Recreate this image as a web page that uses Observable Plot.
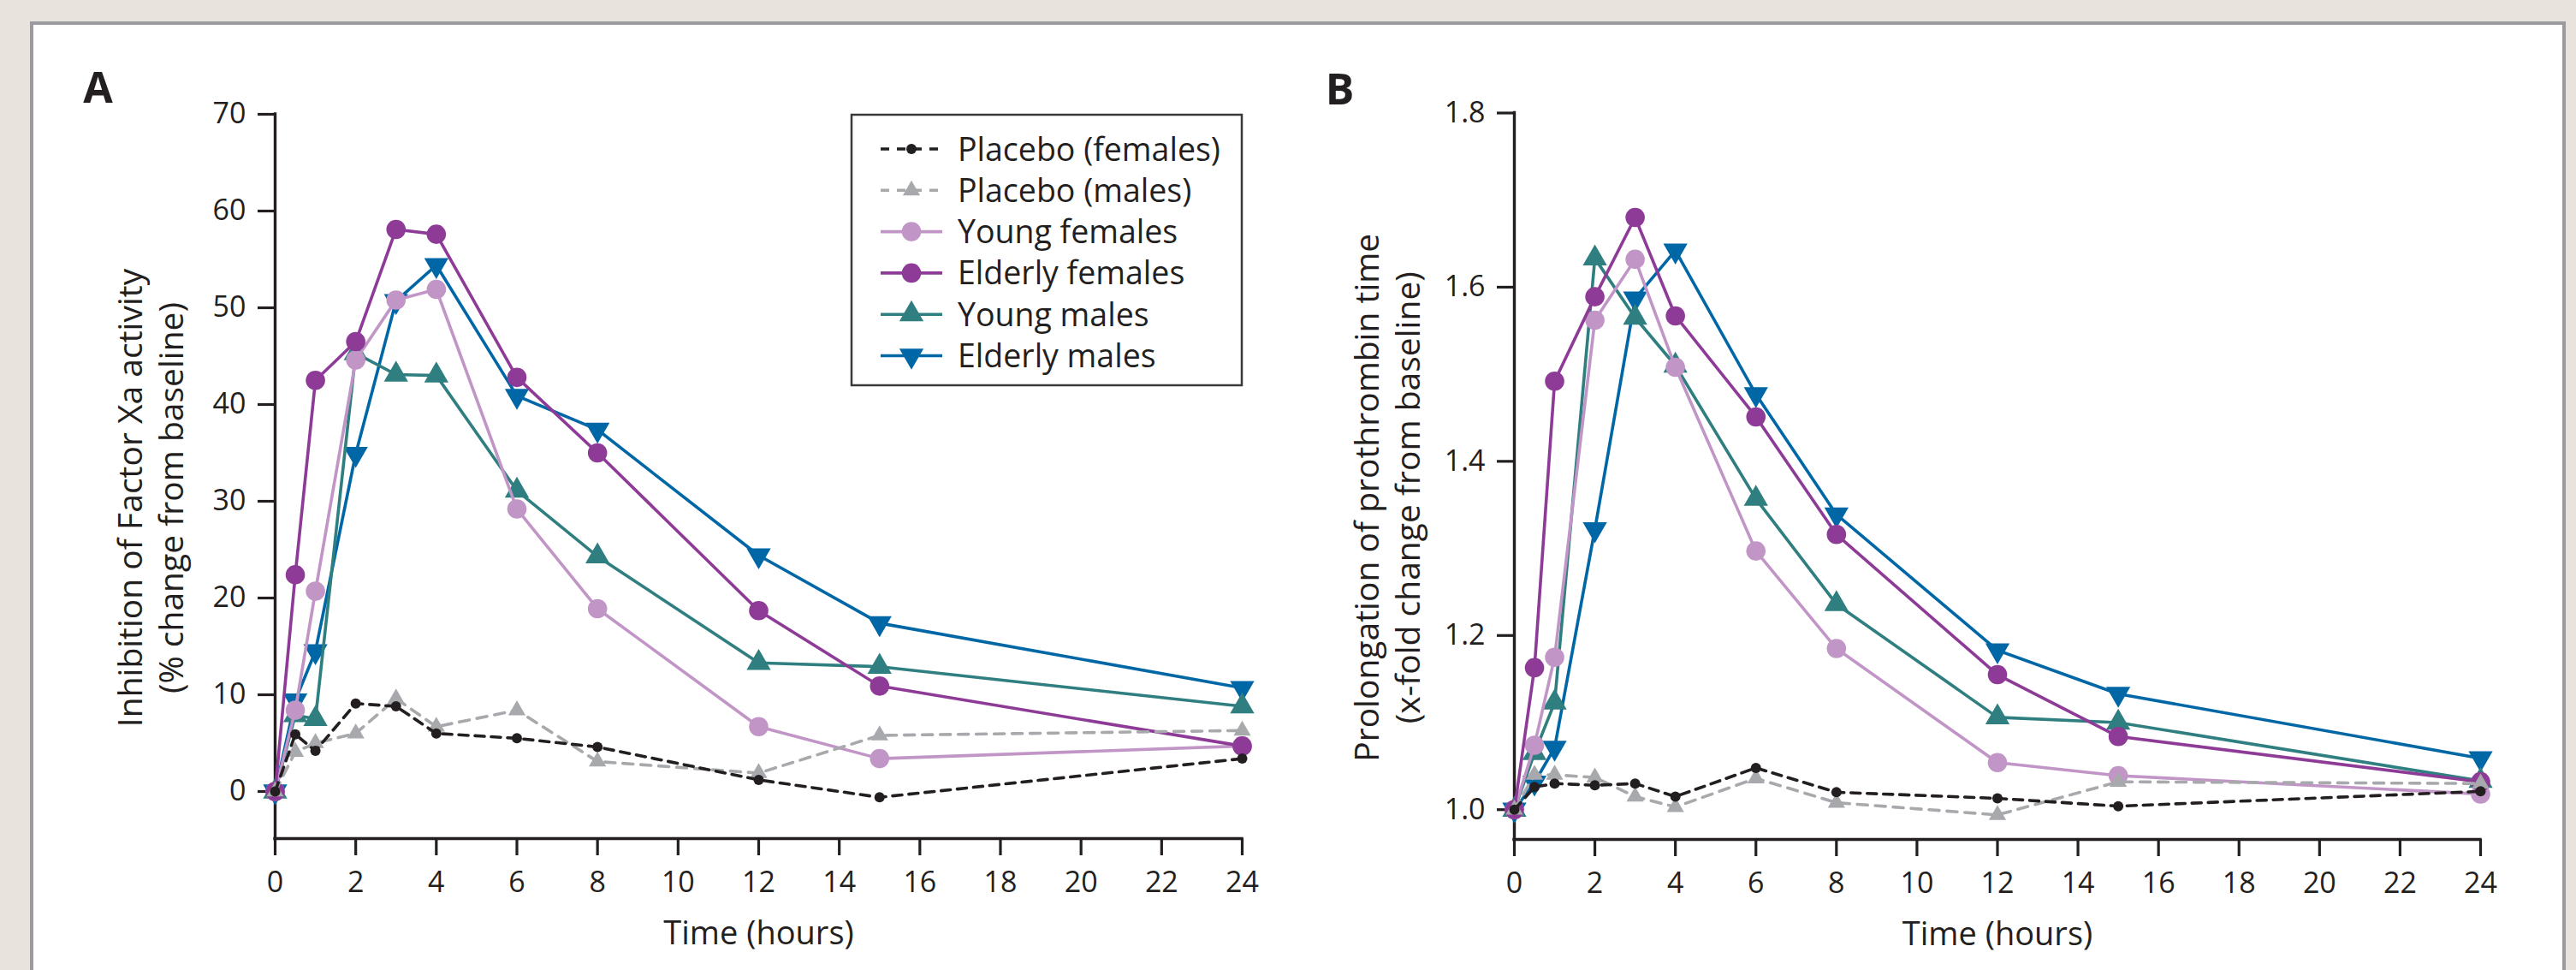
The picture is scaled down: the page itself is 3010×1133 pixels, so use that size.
<!DOCTYPE html>
<html>
<head>
<meta charset="utf-8">
<script src="https://cdn.jsdelivr.net/npm/d3@7"></script>
<script src="https://cdn.jsdelivr.net/npm/@observablehq/plot@0.6"></script>
<style>
html, body { margin: 0; padding: 0; }
body { width: 3010px; height: 1133px; background: #e8e3dd; position: relative; overflow: hidden; font-family: "Open Sans", sans-serif; }
#panel { position: absolute; left: 35px; top: 25px; width: 2955px; height: 1200px; background: #fff; border: 4px solid #9b9b9f; }
.chart { position: absolute; top: 0; }
#legend { position: absolute; left: 0; top: 0; }
</style>
</head>
<body>
<div id="panel"></div>
<div id="chartA" class="chart" style="left:0px"></div>
<div id="chartB" class="chart" style="left:1450px"></div>
<svg id="legend" width="1500" height="500"></svg>
<script>
// ---------- data ----------
const times = [0, 0.5, 1, 2, 3, 4, 6, 8, 12, 15, 24];
const groups = ["Placebo (females)", "Placebo (males)", "Young females", "Elderly females", "Young males", "Elderly males"];
const xTicks = [0, 2, 4, 6, 8, 10, 12, 14, 16, 18, 20, 22, 24];
const yTicksA = [0, 10, 20, 30, 40, 50, 60, 70];
const yTicksB = [1.0, 1.2, 1.4, 1.6, 1.8];
const labelA = "Inhibition of Factor Xa activity\n(% change from baseline)";
const labelB = "Prolongation of prothrombin time\n(x-fold change from baseline)";
const xLabel = "Time (hours)";

// Panel A: inhibition of factor Xa activity (% change from baseline)
const aPlaceboFemales = [0, 5.9, 4.2, 9.1, 8.8, 6.0, 5.5, 4.6, 1.2, -0.6, 3.4];
const aPlaceboMales   = [0, 4.1, 5.0, 6.0, 9.6, 6.7, 8.4, 3.1, 1.9, 5.8, 6.3];
const aYoungFemales   = [0, 8.4, 20.7, 44.6, 50.8, 51.9, 29.2, 18.9, 6.7, 3.4, 4.7];
const aElderlyFemales = [0, 22.4, 42.5, 46.5, 58.1, 57.6, 42.8, 35.0, 18.7, 10.9, 4.7];
const aYoungMales     = [0, 7.9, 7.5, 45.3, 43.1, 43.0, 31.1, 24.3, 13.3, 12.9, 8.8];
const aElderlyMales   = [0, 9.4, 14.5, 34.9, 50.7, 54.4, 40.9, 37.4, 24.4, 17.4, 10.7];

// Panel B: prolongation of prothrombin time (x-fold change from baseline)
const bPlaceboFemales = [1.0, 1.026, 1.030, 1.028, 1.030, 1.015, 1.048, 1.020, 1.013, 1.004, 1.021];
const bPlaceboMales   = [1.0, 1.040, 1.040, 1.037, 1.015, 1.003, 1.036, 1.008, 0.994, 1.032, 1.030];
const bYoungFemales   = [1.0, 1.074, 1.175, 1.562, 1.632, 1.508, 1.297, 1.185, 1.054, 1.039, 1.018];
const bElderlyFemales = [1.0, 1.163, 1.492, 1.589, 1.680, 1.567, 1.451, 1.316, 1.155, 1.084, 1.032];
const bYoungMales     = [1.0, 1.065, 1.123, 1.633, 1.565, 1.510, 1.357, 1.236, 1.106, 1.100, 1.033];
const bElderlyMales   = [1.0, 1.031, 1.071, 1.322, 1.587, 1.642, 1.477, 1.339, 1.183, 1.133, 1.059];

// ---------- styles ----------
const triangleDown = {
  draw(ctx, size) {
    const y = -Math.sqrt(size / (Math.sqrt(3) * 3));
    ctx.moveTo(0, -y * 2);
    ctx.lineTo(-Math.sqrt(3) * y, y);
    ctx.lineTo(Math.sqrt(3) * y, y);
    ctx.closePath();
  }
};
const styles = {
  "Placebo (females)": {color: "#231f20", width: 3.6, dash: "11,8", symbol: "circle", r: 6},
  "Placebo (males)":   {color: "#a7a9ac", width: 3.6, dash: "12,9", symbol: "triangle", r: 7.5},
  "Young females":     {color: "#c196c7", width: 3.6, dash: null, symbol: "circle", r: 11.3},
  "Elderly females":   {color: "#8e3b97", width: 3.6, dash: null, symbol: "circle", r: 11.3},
  "Young males":       {color: "#2f7e80", width: 3.6, dash: null, symbol: "triangle", r: 10.5},
  "Elderly males":     {color: "#0067a7", width: 3.6, dash: null, symbol: triangleDown, r: 10.5}
};
const drawOrder = ["Elderly males", "Young males", "Young females", "Elderly females", "Placebo (males)", "Placebo (females)"];
const ink = "#231f20";
const tickFont = "'Open Sans', sans-serif";
const labelFont = "'Open Sans', sans-serif";

function toRows(seriesByGroup) {
  const rows = [];
  for (const g of groups) seriesByGroup[g].forEach((v, i) => rows.push({group: g, t: times[i], v}));
  return rows;
}

function makePanel(rows, cfg) {
  const marks = [
    Plot.axisX({ticks: xTicks, tickSize: 20, tickPadding: 18, strokeWidth: 3.2, stroke: ink, fill: ink, fontSize: 34, label: null}),
    Plot.axisY({ticks: cfg.yTicks, tickFormat: cfg.yFormat, tickSize: 20, tickPadding: 14, strokeWidth: 3.2, stroke: ink, fill: ink, fontSize: 34, label: null}),
    Plot.ruleX([0], {stroke: ink, strokeWidth: 3.4, strokeLinecap: "square"}),
    Plot.ruleY([cfg.yDomain[0]], {stroke: ink, strokeWidth: 3.4, strokeLinecap: "square"})
  ];
  for (const g of drawOrder) {
    const s = styles[g];
    const data = rows.filter(d => d.group === g);
    marks.push(Plot.line(data, {x: "t", y: "v", stroke: s.color, strokeWidth: s.width, strokeDasharray: s.dash || undefined, curve: "linear"}));
    marks.push(Plot.dot(data, {x: "t", y: "v", fill: s.color, stroke: "none", symbol: s.symbol, r: s.r}));
  }
  marks.push(Plot.text([cfg.yLabel], {text: d => d, ariaLabel: "ylabel", frameAnchor: "left", rotate: -90, dx: cfg.labelDx, dy: 25, lineHeight: 1.25, fontSize: 39, fontFamily: labelFont, fill: ink, textAnchor: "middle", lineAnchor: "middle"}));
  marks.push(Plot.text([xLabel], {text: d => d, ariaLabel: "xlabel", frameAnchor: "bottom", dy: 111, fontSize: 38, fontFamily: labelFont, fill: ink, textAnchor: "middle", lineAnchor: "middle"}));
  marks.push(Plot.text([cfg.letter], {text: d => d, frameAnchor: "top-left", dx: cfg.letterDx, dy: cfg.letterDy, fontSize: 50, fontWeight: "bold", fontFamily: labelFont, fill: ink, textAnchor: "middle", lineAnchor: "middle"}));
  const svg = Plot.plot({
    width: cfg.width, height: 1133,
    marginLeft: cfg.marginLeft, marginRight: cfg.marginRight, marginTop: cfg.marginTop, marginBottom: cfg.marginBottom,
    style: {background: "transparent", fontFamily: tickFont, color: ink, overflow: "visible"},
    x: {domain: [0, 24]},
    y: {domain: cfg.yDomain},
    marks
  });
  d3.select(svg).selectAll('g[aria-label="ylabel"] text').style("letter-spacing", "2.6px");
  d3.select(svg).selectAll('g[aria-label="xlabel"] text').style("letter-spacing", "0.8px");
  return svg;
}

const rowsA = toRows({
  "Placebo (females)": aPlaceboFemales, "Placebo (males)": aPlaceboMales,
  "Young females": aYoungFemales, "Elderly females": aElderlyFemales,
  "Young males": aYoungMales, "Elderly males": aElderlyMales
});
const rowsB = toRows({
  "Placebo (females)": bPlaceboFemales, "Placebo (males)": bPlaceboMales,
  "Young females": bYoungFemales, "Elderly females": bElderlyFemales,
  "Young males": bYoungMales, "Elderly males": bElderlyMales
});

document.getElementById("chartA").appendChild(makePanel(rowsA, {
  width: 1500, marginLeft: 321, marginRight: 49, marginTop: 133, marginBottom: 154,
  yDomain: [-4.867, 70], yTicks: yTicksA, yFormat: d3.format("d"), yLabel: labelA,
  labelDx: -147, letter: "A", letterDx: -207, letterDy: -30
}));
document.getElementById("chartB").appendChild(makePanel(rowsB, {
  width: 1560, marginLeft: 319, marginRight: 112, marginTop: 131.5, marginBottom: 153,
  yDomain: [0.9658, 1.8], yTicks: yTicksB, yFormat: d3.format(".1f"), yLabel: labelB,
  labelDx: -150, letter: "B", letterDx: -204, letterDy: -26
}));

// ---------- legend (box inside panel A) ----------
const leg = d3.select("#legend");
leg.append("rect").attr("x", 995).attr("y", 134).attr("width", 456).attr("height", 316)
  .attr("fill", "#fff").attr("stroke", "#3a3a3a").attr("stroke-width", 2.5);
groups.forEach((g, i) => {
  const s = styles[g];
  const cy = 174 + i * 48.3;
  leg.append("line").attr("x1", 1029).attr("x2", 1101).attr("y1", cy).attr("y2", cy)
    .attr("stroke", s.color).attr("stroke-width", s.width).attr("stroke-dasharray", s.dash ? "10,9" : null);
  const sym = s.symbol === "circle" ? d3.symbolCircle : s.symbol === "triangle" ? d3.symbolTriangle : s.symbol;
  leg.append("path").attr("transform", `translate(1065,${cy})`)
    .attr("d", d3.symbol(sym, Math.PI * s.r * s.r)()).attr("fill", s.color);
  leg.append("text").attr("x", 1119).attr("y", cy).attr("dy", "0.36em")
    .attr("font-family", labelFont).attr("font-size", 37.5).attr("fill", ink).text(g);
});
</script>
</body>
</html>
